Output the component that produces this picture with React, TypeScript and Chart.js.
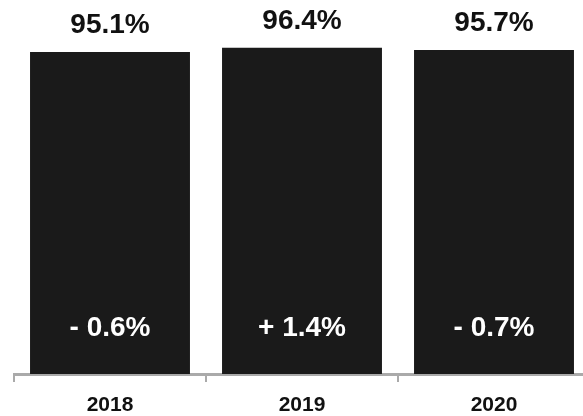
import React, { useEffect, useRef } from "react";
import { Chart, registerables } from "chart.js";

Chart.register(...registerables);

const categories = ["2018", "2019", "2020"];
const values = [95.1, 96.4, 95.7];
const valueLabels = ["95.1%", "96.4%", "95.7%"];
const changeLabels = ["- 0.6%", "+ 1.4%", "- 0.7%"];

const FONT = "'Liberation Sans', Arial, Helvetica, sans-serif";

const labelPlugin = {
  id: "barLabels",
  afterDatasetsDraw(chart: any) {
    const ctx = chart.ctx;
    const meta = chart.getDatasetMeta(0);
    ctx.save();
    ctx.textAlign = "center";
    ctx.textBaseline = "alphabetic";
    ctx.font = `bold 28px ${FONT}`;
    meta.data.forEach((bar: any, i: number) => {
      ctx.fillStyle = "#111111";
      ctx.fillText(valueLabels[i], bar.x, bar.y - 19);
      ctx.fillStyle = "#ffffff";
      ctx.fillText(changeLabels[i], bar.x, bar.base - 38);
    });
    ctx.restore();
  },
};

export default function App() {
  const ref = useRef<HTMLCanvasElement | null>(null);
  useEffect(() => {
    if (!ref.current) return;
    const chart = new Chart(ref.current, {
      type: "bar",
      data: {
        labels: categories,
        datasets: [
          {
            data: values,
            backgroundColor: "#1a1a1a",
            borderWidth: 0,
            categoryPercentage: 1,
            barPercentage: 0.833,
          },
        ],
      },
      options: {
        animation: false,
        responsive: false,
        devicePixelRatio: 1,
        layout: { padding: { left: 14, right: 10, top: 35.5, bottom: 0 } },
        plugins: { legend: { display: false }, tooltip: { enabled: false } },
        scales: {
          y: { display: false, min: 0, max: 100 },
          x: {
            afterFit: (scale: any) => {
              scale.height = 42;
            },
            border: { display: true, color: "#aaaaaa", width: 3 },
            grid: {
              display: true,
              drawOnChartArea: false,
              drawTicks: true,
              tickLength: 8,
              color: "#aaaaaa",
              lineWidth: 2,
              offset: true,
            },
            ticks: {
              color: "#111111",
              padding: 11,
              font: { family: FONT, size: 21, weight: "bold" },
            },
          },
        },
      },
      plugins: [labelPlugin],
    });
    return () => chart.destroy();
  }, []);
  return (
    <div
      style={{
        position: "fixed",
        left: 0,
        top: 0,
        width: 583,
        height: 416,
        overflow: "hidden",
        background: "#ffffff",
      }}
    >
      <canvas
        ref={ref}
        width={600}
        height={416}
        style={{ width: 600, height: 416, display: "block" }}
      />
    </div>
  );
}
